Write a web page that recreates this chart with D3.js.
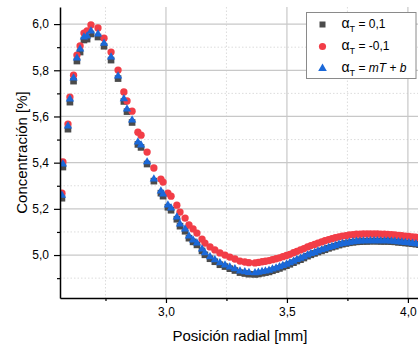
<!DOCTYPE html>
<html>
<head>
<meta charset="utf-8">
<script src="https://cdn.jsdelivr.net/npm/d3@7"></script>
<style>
  html, body { margin: 0; padding: 0; background: #fff; }
  svg { display: block; }
  text { font-family: "Liberation Sans", Arial, sans-serif; fill: #000; }
</style>
</head>
<body>
<svg id="chart" width="418" height="350"></svg>
<script>
// Radial position [mm]
const radialPos = [
  2.570, 2.574, 2.595, 2.603, 2.618, 2.632, 2.645, 2.661, 2.674, 2.690,
  2.719, 2.744, 2.773, 2.802, 2.826, 2.839, 2.860, 2.884, 2.897, 2.922,
  2.950, 2.979, 2.988, 3.008, 3.021, 3.045, 3.058, 3.079, 3.095, 3.112,
  3.128, 3.149, 3.161, 3.182, 3.202, 3.223, 3.244, 3.264, 3.285, 3.306,
  3.326, 3.343,
  3.368, 3.382, 3.397, 3.411, 3.426, 3.440, 3.455, 3.469, 3.483, 3.498,
  3.512, 3.527, 3.541, 3.556, 3.570, 3.585, 3.599, 3.614, 3.628, 3.643,
  3.657, 3.672, 3.686, 3.700, 3.715, 3.729, 3.744, 3.758, 3.773, 3.787,
  3.802, 3.816, 3.831, 3.845, 3.860, 3.874, 3.888, 3.903, 3.917, 3.932,
  3.946, 3.961, 3.975, 3.990, 4.004, 4.019, 4.033, 4.048
];

// Concentration [%] for alpha_T = 0,1
const concPos = [
  5.246, 5.381, 5.545, 5.662, 5.753, 5.840, 5.879, 5.931, 5.935, 5.957,
  5.944, 5.904, 5.844, 5.764, 5.665, 5.621, 5.574, 5.479, 5.466, 5.394,
  5.320, 5.268, 5.255, 5.207, 5.194, 5.155, 5.125, 5.103, 5.073, 5.057,
  5.044, 5.018, 5.001, 4.984, 4.971, 4.958, 4.950, 4.941, 4.933, 4.924,
  4.920, 4.917,
  4.916, 4.918, 4.921, 4.924, 4.927, 4.932, 4.937, 4.942, 4.948, 4.954,
  4.960, 4.967, 4.974, 4.980, 4.987, 4.995, 5.001, 5.007, 5.013, 5.018,
  5.023, 5.029, 5.034, 5.038, 5.043, 5.047, 5.050, 5.053, 5.055, 5.057,
  5.058, 5.059, 5.059, 5.060, 5.060, 5.060, 5.059, 5.059, 5.059, 5.058,
  5.057, 5.055, 5.054, 5.052, 5.051, 5.049, 5.047, 5.045
];

// Concentration [%] for alpha_T = -0,1
const concNeg = [
  5.268, 5.403, 5.567, 5.684, 5.779, 5.866, 5.905, 5.961, 5.970, 5.996,
  5.983, 5.939, 5.879, 5.801, 5.706, 5.667, 5.623, 5.532, 5.519, 5.446,
  5.377, 5.329, 5.316, 5.268, 5.255, 5.216, 5.186, 5.160, 5.130, 5.113,
  5.095, 5.069, 5.052, 5.035, 5.022, 5.009, 5.000, 4.991, 4.983, 4.974,
  4.970, 4.967,
  4.966, 4.968, 4.971, 4.973, 4.976, 4.980, 4.984, 4.988, 4.993, 4.998,
  5.003, 5.010, 5.016, 5.022, 5.028, 5.035, 5.041, 5.046, 5.052, 5.057,
  5.062, 5.067, 5.071, 5.075, 5.079, 5.082, 5.084, 5.087, 5.088, 5.090,
  5.090, 5.091, 5.091, 5.091, 5.091, 5.091, 5.090, 5.090, 5.089, 5.088,
  5.087, 5.085, 5.084, 5.082, 5.081, 5.079, 5.077, 5.075
];

// Concentration [%] for alpha_T = mT + b
const concLin = [
  5.259, 5.394, 5.558, 5.675, 5.766, 5.853, 5.892, 5.944, 5.948, 5.970,
  5.957, 5.917, 5.857, 5.775, 5.676, 5.632, 5.584, 5.489, 5.476, 5.403,
  5.329, 5.277, 5.264, 5.216, 5.203, 5.164, 5.134, 5.112, 5.082, 5.065,
  5.052, 5.026, 5.009, 4.992, 4.979, 4.966, 4.957, 4.948, 4.940, 4.931,
  4.927, 4.924,
  4.923, 4.925, 4.928, 4.931, 4.934, 4.939, 4.944, 4.949, 4.954, 4.960,
  4.966, 4.973, 4.980, 4.986, 4.992, 5.000, 5.006, 5.011, 5.017, 5.022,
  5.027, 5.032, 5.037, 5.041, 5.046, 5.050, 5.052, 5.055, 5.057, 5.059,
  5.060, 5.061, 5.061, 5.062, 5.062, 5.062, 5.061, 5.061, 5.061, 5.060,
  5.059, 5.057, 5.056, 5.054, 5.053, 5.051, 5.049, 5.047
];

const xMajorTicks = [3.0, 3.5, 4.0];
const xMinorTicks = [2.75, 3.25, 3.75];
const yMajorTicks = [5.0, 5.2, 5.4, 5.6, 5.8, 6.0];
const yMinorTicks = [4.9, 5.1, 5.3, 5.5, 5.7, 5.9];

const seriesNames = ["0,1", "-0,1", "mT + b"];

const svg = d3.select("#chart");
const plotLeft = 60, plotRight = 420, plotTop = 7, plotBottom = 298;

const x = d3.scaleLinear().domain([2.562, 4.05]).range([plotLeft, plotRight]);
const y = d3.scaleLinear().domain([4.814, 6.074]).range([plotBottom, plotTop]);
const fmt = d => d3.format(".1f")(d).replace(".", ",");

// grid
const grid = svg.append("g");
grid.selectAll(".gxm").data(xMinorTicks).join("line")
  .attr("x1", d => x(d)).attr("x2", d => x(d)).attr("y1", plotTop).attr("y2", plotBottom)
  .attr("stroke", "#dcdcdc").attr("stroke-width", 1).attr("stroke-dasharray", "1.5,2");
grid.selectAll(".gym").data(yMinorTicks).join("line")
  .attr("x1", plotLeft).attr("x2", 418).attr("y1", d => y(d)).attr("y2", d => y(d))
  .attr("stroke", "#dcdcdc").attr("stroke-width", 1).attr("stroke-dasharray", "1.5,2");
grid.selectAll(".gxM").data(xMajorTicks).join("line")
  .attr("x1", d => x(d)).attr("x2", d => x(d)).attr("y1", plotTop).attr("y2", plotBottom)
  .attr("stroke", "#c8c8c8").attr("stroke-width", 1.2);
grid.selectAll(".gyM").data(yMajorTicks).join("line")
  .attr("x1", plotLeft).attr("x2", 418).attr("y1", d => y(d)).attr("y2", d => y(d))
  .attr("stroke", "#c8c8c8").attr("stroke-width", 1.2);

// markers
svg.append("defs").append("clipPath").attr("id", "plotClip")
  .append("rect").attr("x", plotLeft).attr("y", 0).attr("width", 418 - plotLeft).attr("height", plotBottom);
const marks = svg.append("g").attr("clip-path", "url(#plotClip)");

const n = radialPos.length;
const rows = ys => d3.range(n).map(i => [radialPos[i], ys[i]]);

const series = [
  { data: rows(concPos), color: "#4b4b4b", symbol: d3.symbolSquare, size: 44 },
  { data: rows(concNeg), color: "#f23d47", symbol: d3.symbolCircle, size: 42 },
  { data: rows(concLin), color: "#1b68d8", symbol: d3.symbolTriangle, size: 30 }
];

series.forEach(s => {
  const sym = d3.symbol().type(s.symbol).size(s.size);
  marks.append("g").selectAll("path").data(s.data).join("path")
    .attr("d", sym)
    .attr("transform", d => `translate(${x(d[0])},${y(d[1])})`)
    .attr("fill", s.color);
});

// axes
svg.append("g").attr("transform", `translate(0,${plotBottom})`)
  .call(d3.axisBottom(x).tickValues(xMajorTicks).tickFormat(fmt).tickSize(5).tickPadding(4).tickSizeOuter(0));
svg.append("g").attr("transform", `translate(0,${plotBottom})`)
  .call(d3.axisBottom(x).tickValues(xMinorTicks).tickFormat("").tickSize(3).tickSizeOuter(0))
  .call(g => g.select(".domain").remove());
svg.append("g").attr("transform", `translate(${plotLeft},0)`)
  .call(d3.axisLeft(y).tickValues(yMajorTicks).tickFormat(fmt).tickSize(6).tickPadding(5).tickSizeOuter(0));
svg.append("g").attr("transform", `translate(${plotLeft},0)`)
  .call(d3.axisLeft(y).tickValues(yMinorTicks).tickFormat("").tickSize(3).tickSizeOuter(0))
  .call(g => g.select(".domain").remove());

svg.selectAll(".domain").attr("stroke", "#000").attr("stroke-width", 1.5);
svg.selectAll(".tick line").attr("stroke", "#000").attr("stroke-width", 1.2);
svg.selectAll(".tick text").attr("font-size", 12).attr("font-family", "Liberation Sans, Arial, sans-serif").attr("fill", "#000");

// axis titles
svg.append("text").attr("x", 240).attr("y", 340.5).attr("text-anchor", "middle")
  .attr("font-size", 15).text("Posición radial [mm]");
svg.append("text").attr("transform", `translate(26.5,${(plotTop + plotBottom) / 2}) rotate(-90)`)
  .attr("text-anchor", "middle").attr("font-size", 15).text("Concentración [%]");

// legend
const lg = svg.append("g");
lg.append("rect").attr("x", 306.5).attr("y", 12.5).attr("width", 109.5).attr("height", 66)
  .attr("fill", "#fff").attr("stroke", "#8a8a8a").attr("stroke-width", 1);
const legendSizes = [36, 40, 32];
series.forEach((s, i) => {
  const cy = 24.5 + i * 22;
  lg.append("path")
    .attr("d", d3.symbol().type(s.symbol).size(legendSizes[i]))
    .attr("transform", `translate(322.5,${cy})`)
    .attr("fill", s.color);
  const t = lg.append("text").attr("x", 341.5).attr("y", cy + 3.8).attr("font-size", 12);
  t.append("tspan").attr("font-size", 14).text("α");
  t.append("tspan").attr("font-size", 9).attr("dy", 3.5).text("T");
  if (i < 2) {
    t.append("tspan").attr("dy", -3.5).text(" = " + seriesNames[i]);
  } else {
    t.append("tspan").attr("dy", -3.5).text(" = ");
    t.append("tspan").attr("font-style", "italic").text("mT");
    t.append("tspan").text(" + ");
    t.append("tspan").attr("font-style", "italic").text("b");
  }
});
</script>
</body>
</html>
